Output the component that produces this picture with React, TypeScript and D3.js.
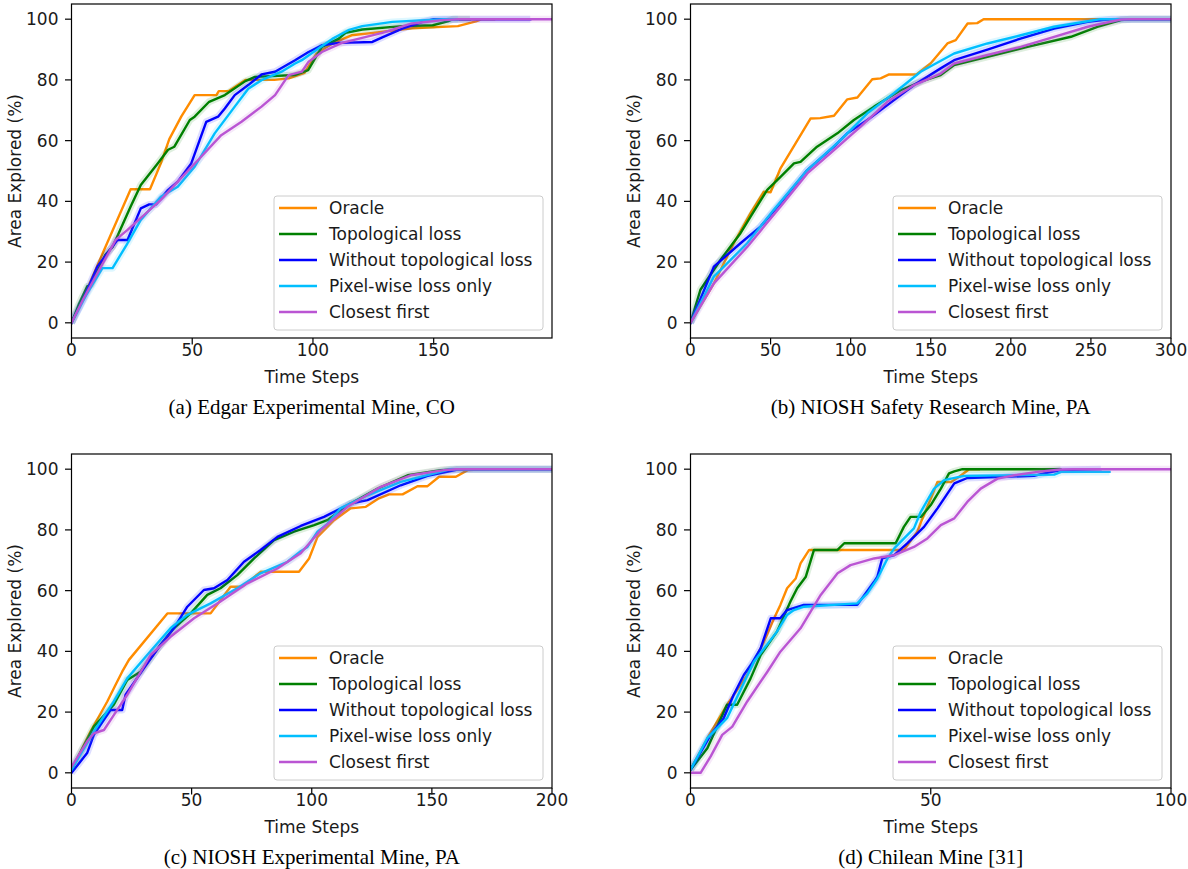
import React from 'react';
import * as d3 from 'd3';

type Pt = [number, number];

const seriesNames = ['Oracle', 'Topological loss', 'Without topological loss', 'Pixel-wise loss only', 'Closest first'];
const seriesColors = ['#ff8c00', '#008000', '#0000ff', '#00bfff', '#ba55d3'];
const yTicks = [0, 20, 40, 60, 80, 100];

// (a) Edgar Experimental Mine, CO
const edgarOracle: Pt[] = [[0,0],[7,12],[13.5,24],[24.5,44],[32.5,44],[37,52.5],[40.5,60.5],[45.5,68],[51,75],[60,75],[61,76.3],[65,76.3],[72,80],[84,80],[90,80.5],[96.5,82.3],[101.5,88.7],[108,92],[116,94.7],[125,95.5],[141,97],[160,97.7],[167.5,99.3],[170,100],[175,100]];
const edgarTopo: Pt[] = [[0,0],[3,6],[6.5,12],[8,12.5],[14,22.4],[17,25],[24.5,38.3],[28.7,45.4],[35.7,52.5],[40,57],[42.6,58],[49,66.8],[51,67.9],[57,72.8],[63.5,75],[72,79.6],[76,81],[92.5,81.6],[98,83.2],[103.7,90.9],[110.7,93.6],[113.5,95.5],[120.4,96.6],[137,97.7],[149.6,98],[155.8,99.3],[158,100],[165,100]];
const edgarWithout: Pt[] = [[0,0],[5,8],[10.7,18.5],[19,27.3],[23.2,27.3],[28.7,37.7],[32.2,39],[35,39],[40,43.8],[44,46.5],[49.6,52.5],[55.8,66.2],[60.7,67.9],[63.5,70.6],[67.6,75],[73.2,78.3],[78.7,81.8],[84.3,82.7],[92.6,86.5],[98.2,89.2],[103.7,91.4],[110.7,92.2],[124.6,92.5],[128.7,94],[137,96.9],[145.4,99.1],[150,100],[190,100]];
const edgarPixel: Pt[] = [[0,0],[6,9],[12.8,18],[17,18],[23.2,26.2],[28.7,33.9],[37,41.5],[44,44.8],[51,51.4],[59.3,62.4],[67.6,71.2],[73.2,77.1],[78.7,79.9],[87,82.7],[92.6,85.4],[95.4,86.5],[102.4,90.4],[108,93.5],[115,96.5],[120.4,97.7],[132.9,99.1],[154,100],[160,100]];
const edgarClosest: Pt[] = [[0,0],[5,8],[10.7,16.3],[18.3,27.3],[23.2,30.6],[30,35.5],[37,40.5],[44,46.5],[53.7,54.7],[62,61.8],[70.4,66.2],[78.7,71.2],[84.3,75],[89.9,81.6],[95.4,82.7],[98.2,86],[103.7,89.2],[112,92.2],[128.7,95.5],[141,98.6],[153.7,99.7],[160,100],[199,100]];

// (b) NIOSH Safety Research Mine, PA
const srOracle: Pt[] = [[0,0],[14.6,13],[27,26.2],[37.5,36.1],[45.8,43.2],[50,43],[56.2,50.9],[65.6,59.1],[75,67.3],[81,67.4],[89.6,68.2],[97.9,73.6],[104.2,74.2],[113.5,80.2],[118.7,80.5],[124,81.8],[141,81.8],[150,85.5],[160.4,92],[165.6,93.1],[173,98.6],[179,98.7],[183,100],[300,100]];
const srTopo: Pt[] = [[0,0],[6.2,10.9],[18.7,20.7],[31.2,29.5],[37.5,35],[47.9,43.8],[56.2,48.1],[64.6,52.5],[68.7,53],[79,58],[91.7,62.4],[102,66.8],[114.6,71.2],[131.2,76.6],[143.7,79.4],[156.2,81.6],[164.6,84.9],[185.4,87.6],[210.4,90.9],[237.5,94.2],[254,97.5],[268.7,99.7],[275,100],[300,100]];
const srWithout: Pt[] = [[0,0],[14.6,18.5],[31.2,26.2],[43.7,31.7],[56.2,39.4],[72.9,50.3],[89.6,58],[97.9,62.4],[110.4,66.8],[122.9,71.7],[139.6,78.3],[156.2,83.8],[164.6,86.5],[185.4,90],[206,93.6],[227,96.9],[248,99.1],[263,100],[300,100]];
const srPixel: Pt[] = [[0,0],[14.6,15.2],[35.4,26.2],[52,37.2],[72.9,50.3],[93.7,60.2],[110.4,69],[127,75.6],[143.7,82.7],[164.6,88.7],[185.4,92],[206.2,94.7],[227,97.5],[248,99.3],[256,100],[300,100]];
const srClosest: Pt[] = [[0,0],[14.6,13],[35.4,25],[56.2,38.3],[72.9,49.2],[89.6,56.9],[106.2,64.6],[122.9,72.8],[139.6,78.3],[156.2,82.1],[164.6,85.4],[185.4,88.2],[206.2,90.9],[227,94.2],[248,97.5],[268.7,99.9],[275,100],[300,100]];

// (c) NIOSH Experimental Mine, PA
const emOracle: Pt[] = [[0,1],[7.9,13.6],[14.9,23.5],[18.3,28.9],[21.1,33.3],[23.9,37.2],[39.9,52.5],[57.9,52.5],[59.3,54],[66.2,61.3],[71.1,61.3],[78.7,66.2],[94.7,66.2],[98.9,70.6],[102.4,77.7],[109.3,83.2],[116.2,87.1],[122.5,87.6],[128,90.4],[132.2,91.7],[137.8,91.7],[144,94.4],[148.2,94.4],[153,97.5],[160,97.5],[164.9,99.7],[174.6,100]];
const emTopo: Pt[] = [[0,1],[9.3,15.2],[17.6,22.4],[23.2,30.6],[28.7,33.3],[37,42.1],[42.6,47.6],[49.6,52.5],[56.5,58.6],[62,60.8],[69,65.1],[76,70.6],[84.3,76.6],[92.6,79.4],[101,81.6],[106.5,83.2],[116.2,88.7],[127.4,93.6],[139.9,98],[153.7,99.7],[160,100],[200,100]];
const emWithout: Pt[] = [[0,0],[6.5,6.5],[9.3,12.5],[16.2,20.7],[21.1,20.7],[22.5,25.7],[30.1,34.4],[37,42.1],[42.6,47.6],[48.2,54.7],[55.1,60.2],[59.3,60.8],[64.9,63.5],[71.8,69.5],[78.7,73.4],[85.7,77.7],[95.4,81.3],[105.1,84.3],[116.2,88.7],[123.2,89.8],[137,94.7],[148.2,97.8],[160.7,99.9],[165,100],[200,100]];
const emPixel: Pt[] = [[0,1],[9.3,13.6],[17.6,23.5],[23.2,31.1],[31.5,38.8],[41.2,47.6],[48.2,52],[57.9,55.8],[69,60.8],[78.7,65.7],[89.9,69.5],[95.4,73],[98.2,74.4],[102.4,79.4],[106.5,82],[112,87.1],[123.2,91.4],[137,95.8],[151,98.6],[158,100],[200,100]];
const emClosest: Pt[] = [[0,2],[6.5,10.3],[9.3,13],[13.5,14.1],[17.6,19],[23.2,25.7],[32.9,38.8],[41.2,44.8],[51,50.9],[62,56.4],[73.2,62.4],[85.7,67.3],[95.4,72.3],[103.7,79.9],[114.9,87.6],[128.7,94.2],[141.2,98],[155,99.7],[160,100],[200,100]];

// (d) Chilean Mine [31]
const chOracle: Pt[] = [[0,1],[3.5,11.4],[7.6,22.4],[11.8,32.2],[15.3,43.2],[17.4,50.9],[18.7,55.3],[20.1,60.8],[21.9,64],[22.9,69],[24.7,73.4],[44.4,73.4],[47.2,79.4],[48,82.7],[50.7,93],[51.4,95.8],[54.2,95.8],[55.9,97.5],[58,100],[60,100]];
const chTopo: Pt[] = [[0,1],[3.5,8.1],[7.6,22.4],[9.7,22.4],[12.5,31.1],[14.6,38.8],[18,46.5],[20.8,56.4],[22.2,60.8],[24,64.6],[25.7,73.4],[30.6,73.4],[32,75.6],[42.7,75.6],[44.4,81],[45.8,84.3],[48,84.3],[50,88.2],[52.1,93.6],[53.8,98.6],[54.9,99.3],[56.6,100],[77,100]];
const chWithout: Pt[] = [[0,1],[4.2,12.5],[6.9,18],[9,25.7],[11.1,32.2],[12.8,36.1],[14.6,41],[16.7,50.9],[18.7,50.9],[20.1,53.6],[23.6,55.3],[34.7,55.3],[38.2,62.9],[38.9,64.6],[39.9,70.6],[42.4,71.7],[45.1,75.6],[48.6,81],[51.4,87.1],[54.9,95.3],[57.6,97.1],[71.5,97.8],[73.6,98.6],[77.1,99.7],[85.4,100]];
const chPixel: Pt[] = [[0,1],[3.5,11.4],[7.6,18],[13.2,36.6],[18,46.5],[20.1,52],[21.5,53.6],[23.6,54.7],[34.7,55.8],[36.8,59.1],[38.9,64],[41,70.6],[42.4,73.9],[46.5,80.5],[47.9,85.9],[50.7,93.6],[52.8,96.4],[56.9,97.8],[75.7,98.2],[77.1,99.1],[87.2,99.1]];
const chClosest: Pt[] = [[0,0],[2.1,0],[4.2,5.4],[6.6,12.5],[8.7,15.2],[11.8,23.5],[16,33.3],[18.7,39.9],[22.9,47.6],[27.1,58.6],[30.6,65.7],[33.3,68.4],[38.2,70.6],[42.4,71.7],[46.5,74.4],[49.3,77.2],[52.1,81.6],[54.9,83.8],[57.6,89.2],[60.4,93.6],[63.9,96.9],[67.4,98],[72.2,99.1],[77,99.9],[80,100],[100,100]];

const edgarTicks = [0, 50, 100, 150];
const srTicks = [0, 50, 100, 150, 200, 250, 300];
const emTicks = [0, 50, 100, 150, 200];
const chTicks = [0, 50, 100];

const SANS = '"DejaVu Sans", sans-serif';
const SERIF = '"Liberation Serif", "Times New Roman", serif';
const TXT = '#1a1a1a';
const FS = 17;

interface PanelProps {
  id: string;
  left: number;
  top: number;
  xMax: number;
  xTicks: number[];
  data: Pt[][];
  caption: string;
}

function Panel({ id, left, top, xMax, xTicks, data, caption }: PanelProps) {
  const W = 480.5;
  const H = 334;
  const right = left + W;
  const bottom = top + H;
  const x = d3.scaleLinear().domain([0, xMax]).range([left, right]);
  const y = d3.scaleLinear().domain([-5, 105]).range([bottom, top]);
  const line = d3.line<Pt>().x(d => x(d[0])).y(d => y(d[1]));
  const cx = (left + right) / 2;
  const lgL = left + 202.5;
  const lgT = top + 192;
  return (
    <g>
      <defs>
        <clipPath id={`clip-${id}`}>
          <rect x={left} y={top} width={W} height={H} />
        </clipPath>
      </defs>
      <g clipPath={`url(#clip-${id})`}>
        {data.map((s, i) => (
          <g key={i}>
            {i > 0 && (
              <path d={line(s) || ''} fill="none" stroke={seriesColors[i]} strokeWidth={7} strokeOpacity={0.13} strokeLinejoin="round" />
            )}
            <path d={line(s) || ''} fill="none" stroke={seriesColors[i]} strokeWidth={2.4} strokeLinejoin="round" strokeLinecap="square" />
          </g>
        ))}
      </g>
      <rect x={left} y={top} width={W} height={H} fill="none" stroke="#000" strokeWidth={1.2} />
      {yTicks.map(t => (
        <g key={`y${t}`}>
          <line x1={left - 6.5} x2={left} y1={y(t)} y2={y(t)} stroke="#000" strokeWidth={1.2} />
          <text x={left - 13} y={y(t)} dy="0.36em" textAnchor="end" fontFamily={SANS} fontSize={FS} fill={TXT}>{t}</text>
        </g>
      ))}
      {xTicks.map(t => (
        <g key={`x${t}`}>
          <line x1={x(t)} x2={x(t)} y1={bottom} y2={bottom + 6.5} stroke="#000" strokeWidth={1.2} />
          <text x={x(t)} y={bottom + 18} textAnchor="middle" fontFamily={SANS} fontSize={FS} fill={TXT}>{t}</text>
        </g>
      ))}
      <text x={cx} y={bottom + 45} textAnchor="middle" fontFamily={SANS} fontSize={FS} fill={TXT}>Time Steps</text>
      <text transform={`translate(${left - 51},${(top + bottom) / 2}) rotate(-90)`} textAnchor="middle" fontFamily={SANS} fontSize={FS} fill={TXT}>Area Explored (%)</text>
      <rect x={lgL} y={lgT} width={269} height={134} rx={3} fill="#fff" fillOpacity={0.8} stroke="#cccccc" strokeWidth={1} />
      {seriesNames.map((n, i) => {
        const yy = lgT + 12 + i * 26;
        return (
          <g key={n}>
            <line x1={lgL + 5} x2={lgL + 43} y1={yy} y2={yy} stroke={seriesColors[i]} strokeWidth={2.4} />
            <text x={lgL + 55} y={yy} dy="0.36em" fontFamily={SANS} fontSize={FS} fill={TXT}>{n}</text>
          </g>
        );
      })}
      <text x={cx} y={bottom + 76} textAnchor="middle" fontFamily={SERIF} fontSize={21} fill="#000">{caption}</text>
    </g>
  );
}

export default function App() {
  return (
    <svg width={1188} height={869} style={{ position: 'absolute', left: 0, top: 0, background: '#fff' }}>
      <rect x={0} y={0} width={1188} height={869} fill="#fff" />
      <Panel id="a" left={71.5} top={4} xMax={199} xTicks={edgarTicks}
        data={[edgarOracle, edgarTopo, edgarWithout, edgarPixel, edgarClosest]}
        caption="(a) Edgar Experimental Mine, CO" />
      <Panel id="b" left={690.5} top={4} xMax={300} xTicks={srTicks}
        data={[srOracle, srTopo, srWithout, srPixel, srClosest]}
        caption="(b) NIOSH Safety Research Mine, PA" />
      <Panel id="c" left={71.5} top={454} xMax={200} xTicks={emTicks}
        data={[emOracle, emTopo, emWithout, emPixel, emClosest]}
        caption="(c) NIOSH Experimental Mine, PA" />
      <Panel id="d" left={690.5} top={454} xMax={100} xTicks={chTicks}
        data={[chOracle, chTopo, chWithout, chPixel, chClosest]}
        caption="(d) Chilean Mine [31]" />
    </svg>
  );
}
